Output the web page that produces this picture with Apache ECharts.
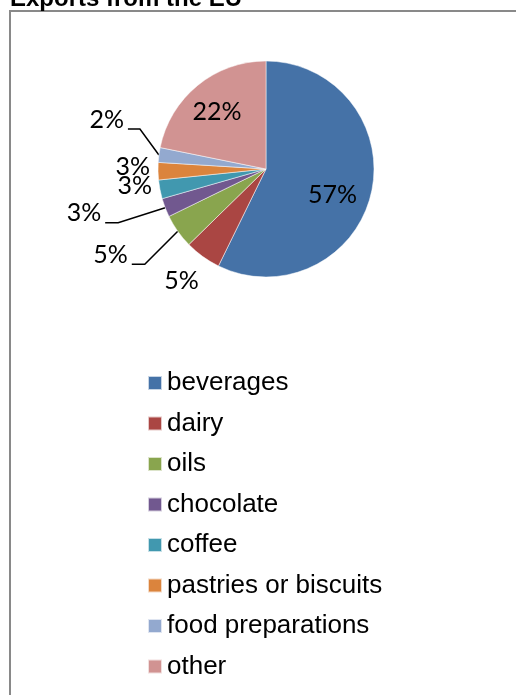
<!DOCTYPE html>
<html>

<head>
    <meta charset="utf-8">
    <title>Exports from the EU</title>
    <script type="text/javascript" src="https://cdn.jsdelivr.net/npm/echarts@6/dist/echarts.min.js"></script>
</head>

<body style="margin: 0; padding: 0;">
    <div id="main" style="width: 516px; height: 695px;"></div>
    <script type="text/javascript">
    // data (share of exports, %)
    var categories = ['beverages', 'dairy', 'oils', 'chocolate', 'coffee',
        'pastries or biscuits', 'food preparations', 'other'];
    var shares = [57.2, 5.4, 5.1, 2.8, 2.8, 2.6, 2.2, 21.8];

    var colors = ['#4572A7', '#AA4643', '#89A54E', '#71588F', '#4198AF',
        '#DB843D', '#93A9CF', '#D19392'];

    // where each label sits, relative to the library's own anchor point
    // inside: shift of the label centre; outside: elbow/end of the leader line
    var labelPlacement = [
        { inside: true, dx: 11, dy: 13 },
        { line: false, dx: -4, dy: 24 },
        { line: true, elbow: [-33, 33], arm: 13, dy: -9 },
        { line: true, elbow: [-47, 15], arm: 13, dy: -10 },
        { line: false, dx: -8, dy: -3 },
        { line: false, dx: -8, dy: -4 },
        { line: true, elbow: [-19, -26], arm: 12, dy: -9 },
        { inside: true, dx: -13, dy: -13 }
    ];

    var myChart = echarts.init(document.getElementById('main'));

    var pieData = categories.map(function (name, i) {
        var item = { name: name, value: shares[i], itemStyle: { color: colors[i] } };
        if (labelPlacement[i].inside) {
            item.label = { position: 'inside' };
            item.labelLine = { show: false };
        }
        return item;
    });

    option = {
        animation: false,
        title: {
            text: 'Exports from the EU',
            left: 10,
            top: -13,
            padding: 0,
            textStyle: {
                fontFamily: 'Liberation Sans',
                fontWeight: 'bold',
                fontSize: 24,
                color: '#000'
            }
        },
        graphic: [{
            type: 'rect',
            shape: { x: 10, y: 11, width: 520, height: 700 },
            style: { fill: 'none', stroke: '#898989', lineWidth: 2 },
            z: -1
        }],
        legend: {
            orient: 'vertical',
            left: 147,
            top: 370,
            padding: 0,
            itemWidth: 14,
            itemHeight: 14,
            itemGap: 14.5,
            icon: 'rect',
            data: categories,
            textStyle: {
                fontFamily: 'Liberation Sans',
                fontSize: 26,
                color: '#000'
            }
        },
        series: [{
            type: 'pie',
            center: [266, 169],
            radius: 108,
            startAngle: 90,
            clockwise: true,
            percentPrecision: 0,
            avoidLabelOverlap: false,
            data: pieData,
            itemStyle: { borderColor: 'rgba(255,255,255,0.7)', borderWidth: 0.7 },
            label: {
                formatter: '{d}%',
                position: 'outside',
                fontFamily: 'Lato',
                fontSize: 25,
                color: '#000'
            },
            labelLine: {
                show: true,
                length: 10,
                length2: 10,
                lineStyle: { color: '#000', width: 1.5 }
            },
            labelLayout: function (p) {
                var t = labelPlacement[p.dataIndex];
                var r = p.labelRect;
                if (t.inside) {
                    return {
                        x: r.x + r.width / 2 + t.dx,
                        y: r.y + r.height / 2 + t.dy,
                        align: 'center',
                        verticalAlign: 'middle'
                    };
                }
                var a = p.labelLinePoints[0];
                if (t.line) {
                    var b = [a[0] + t.elbow[0], a[1] + t.elbow[1]];
                    var c = [b[0] - t.arm, b[1]];
                    return {
                        x: c[0] - 4,
                        y: c[1] + t.dy,
                        align: 'right',
                        verticalAlign: 'middle',
                        labelLinePoints: [a, b, c]
                    };
                }
                return {
                    x: a[0] + t.dx,
                    y: a[1] + t.dy,
                    align: 'right',
                    verticalAlign: 'middle',
                    labelLinePoints: [a, a, a]
                };
            }
        }]
    };

    myChart.setOption(option);
    </script>
</body>

</html>
